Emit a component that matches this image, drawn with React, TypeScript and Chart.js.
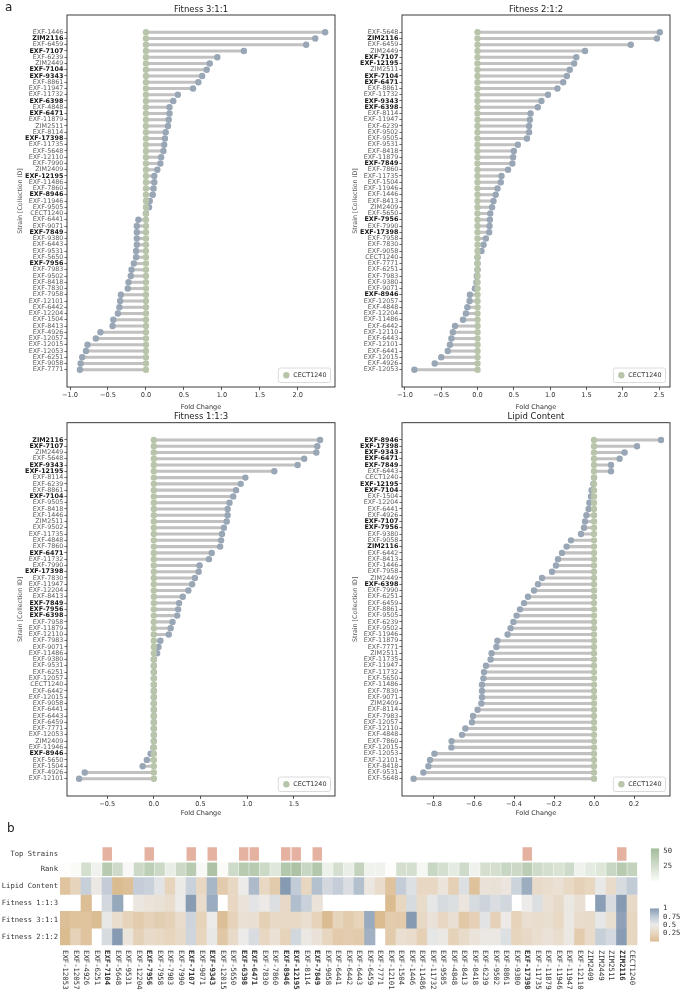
import React, { useEffect, useRef } from 'react';
import { Chart, registerables } from 'chart.js';

Chart.register(...registerables);

const SANS = "'DejaVu Sans', sans-serif";
const MONO = "'DejaVu Sans Mono', monospace";

// ---------------- data ----------------
const TOP_STRAINS = ['EXF-7104', 'EXF-7956', 'EXF-7107', 'EXF-9343', 'EXF-6398', 'EXF-6471', 'EXF-8946', 'EXF-12195', 'EXF-7849', 'EXF-17398', 'ZIM2116'];
const REFERENCE_STRAIN = 'CECT1240';

const fit311Strains = ['EXF-1446', 'ZIM2116', 'EXF-6459', 'EXF-7107', 'EXF-6239', 'ZIM2449', 'EXF-7104', 'EXF-9343', 'EXF-8861', 'EXF-11947', 'EXF-11732', 'EXF-6398', 'EXF-4848', 'EXF-6471', 'EXF-11879', 'ZIM2511', 'EXF-8114', 'EXF-17398', 'EXF-11735', 'EXF-5648', 'EXF-12110', 'EXF-7990', 'ZIM2409', 'EXF-12195', 'EXF-11486', 'EXF-7860', 'EXF-8946', 'EXF-11946', 'EXF-9505', 'CECT1240', 'EXF-6441', 'EXF-9071', 'EXF-7849', 'EXF-9380', 'EXF-6443', 'EXF-9531', 'EXF-5650', 'EXF-7956', 'EXF-7983', 'EXF-9502', 'EXF-8418', 'EXF-7830', 'EXF-7958', 'EXF-12101', 'EXF-6442', 'EXF-12204', 'EXF-1504', 'EXF-8413', 'EXF-4926', 'EXF-12057', 'EXF-12015', 'EXF-12053', 'EXF-6251', 'EXF-9058', 'EXF-7771'];
const fit311Values = [2.36, 2.23, 2.11, 1.29, 0.94, 0.84, 0.80, 0.74, 0.69, 0.62, 0.42, 0.36, 0.31, 0.31, 0.30, 0.29, 0.26, 0.25, 0.24, 0.23, 0.20, 0.19, 0.15, 0.11, 0.11, 0.10, 0.09, 0.05, 0.04, 0, -0.10, -0.12, -0.12, -0.12, -0.12, -0.13, -0.13, -0.16, -0.19, -0.20, -0.23, -0.24, -0.33, -0.34, -0.35, -0.37, -0.43, -0.44, -0.60, -0.66, -0.77, -0.79, -0.84, -0.86, -0.87];
const fit311Ticks = [-1, -0.5, 0, 0.5, 1, 1.5, 2];

const fit212Strains = ['EXF-5648', 'ZIM2116', 'EXF-6459', 'ZIM2449', 'EXF-7107', 'EXF-12195', 'ZIM2511', 'EXF-7104', 'EXF-6471', 'EXF-8861', 'EXF-11732', 'EXF-9343', 'EXF-6398', 'EXF-8114', 'EXF-11947', 'EXF-6239', 'EXF-9502', 'EXF-9505', 'EXF-9531', 'EXF-8418', 'EXF-11879', 'EXF-7849', 'EXF-7860', 'EXF-11735', 'EXF-1504', 'EXF-11946', 'EXF-1446', 'EXF-8413', 'ZIM2409', 'EXF-5650', 'EXF-7956', 'EXF-7990', 'EXF-17398', 'EXF-7958', 'EXF-7830', 'EXF-9058', 'CECT1240', 'EXF-7771', 'EXF-6251', 'EXF-7983', 'EXF-9380', 'EXF-9071', 'EXF-8946', 'EXF-12057', 'EXF-4848', 'EXF-12204', 'EXF-11486', 'EXF-6442', 'EXF-12110', 'EXF-6443', 'EXF-12101', 'EXF-6441', 'EXF-12015', 'EXF-4926', 'EXF-12053'];
const fit212Values = [2.51, 2.47, 2.11, 1.48, 1.36, 1.33, 1.27, 1.23, 1.18, 1.10, 0.97, 0.88, 0.83, 0.73, 0.72, 0.71, 0.71, 0.68, 0.555, 0.50, 0.49, 0.48, 0.42, 0.33, 0.32, 0.275, 0.25, 0.22, 0.20, 0.175, 0.17, 0.165, 0.16, 0.115, 0.083, 0.055, 0, 0, 0, -0.01, -0.015, -0.036, -0.105, -0.11, -0.14, -0.16, -0.20, -0.31, -0.34, -0.36, -0.38, -0.41, -0.50, -0.59, -0.87];
const fit212Ticks = [-1, -0.5, 0, 0.5, 1, 1.5, 2, 2.5];

const fit113Strains = ['ZIM2116', 'EXF-7107', 'ZIM2449', 'EXF-5648', 'EXF-9343', 'EXF-12195', 'EXF-8114', 'EXF-6239', 'EXF-8861', 'EXF-7104', 'EXF-9505', 'EXF-8418', 'EXF-1446', 'ZIM2511', 'EXF-9502', 'EXF-11735', 'EXF-4848', 'EXF-7860', 'EXF-6471', 'EXF-11732', 'EXF-7990', 'EXF-17398', 'EXF-7830', 'EXF-11947', 'EXF-12204', 'EXF-8413', 'EXF-7849', 'EXF-7956', 'EXF-6398', 'EXF-7958', 'EXF-11879', 'EXF-12110', 'EXF-7983', 'EXF-9071', 'EXF-11486', 'EXF-9380', 'EXF-9531', 'EXF-6251', 'EXF-12057', 'CECT1240', 'EXF-6442', 'EXF-12015', 'EXF-9058', 'EXF-6441', 'EXF-6443', 'EXF-6459', 'EXF-7771', 'EXF-12053', 'ZIM2409', 'EXF-11946', 'EXF-8946', 'EXF-5650', 'EXF-1504', 'EXF-4926', 'EXF-12101'];
const fit113Values = [1.78, 1.75, 1.74, 1.61, 1.54, 1.29, 0.98, 0.93, 0.88, 0.85, 0.81, 0.79, 0.79, 0.78, 0.75, 0.73, 0.72, 0.71, 0.62, 0.59, 0.49, 0.48, 0.44, 0.41, 0.37, 0.31, 0.27, 0.26, 0.25, 0.20, 0.18, 0.16, 0.07, 0.05, 0.035, 0, 0, 0, 0, 0, 0, 0, 0, 0, 0, 0, 0, 0, 0, -0.005, -0.035, -0.075, -0.12, -0.74, -0.80];
const fit113Ticks = [-0.5, 0, 0.5, 1, 1.5];

const lipidStrains = ['EXF-8946', 'EXF-17398', 'EXF-9343', 'EXF-6471', 'EXF-7849', 'EXF-6443', 'CECT1240', 'EXF-12195', 'EXF-7104', 'EXF-1504', 'EXF-12204', 'EXF-6441', 'EXF-4926', 'EXF-7107', 'EXF-7956', 'EXF-9380', 'EXF-9058', 'ZIM2116', 'EXF-6442', 'EXF-8413', 'EXF-1446', 'EXF-7958', 'ZIM2449', 'EXF-6398', 'EXF-7990', 'EXF-6251', 'EXF-6459', 'EXF-8861', 'EXF-9505', 'EXF-6239', 'EXF-9502', 'EXF-11946', 'EXF-11879', 'EXF-7771', 'ZIM2511', 'EXF-11735', 'EXF-11947', 'EXF-11732', 'EXF-5650', 'EXF-11486', 'EXF-7830', 'EXF-9071', 'ZIM2409', 'EXF-8114', 'EXF-7983', 'EXF-12057', 'EXF-12110', 'EXF-4848', 'EXF-7860', 'EXF-12015', 'EXF-12053', 'EXF-12101', 'EXF-8418', 'EXF-9531', 'EXF-5648'];
const lipidValues = [0.335, 0.215, 0.153, 0.128, 0.085, 0.085, 0, -0.003, -0.012, -0.015, -0.023, -0.027, -0.038, -0.045, -0.05, -0.065, -0.115, -0.137, -0.16, -0.18, -0.19, -0.21, -0.26, -0.28, -0.30, -0.33, -0.35, -0.37, -0.387, -0.403, -0.417, -0.432, -0.483, -0.488, -0.512, -0.517, -0.54, -0.55, -0.553, -0.56, -0.56, -0.56, -0.563, -0.582, -0.605, -0.61, -0.643, -0.66, -0.712, -0.713, -0.798, -0.82, -0.828, -0.853, -0.902];
const lipidTicks = [-0.8, -0.6, -0.4, -0.2, 0, 0.2];

// heatmap (columns in this order)
const heatStrains = ['EXF-12053', 'EXF-12057', 'EXF-4926', 'EXF-6251', 'EXF-7104', 'EXF-5648', 'EXF-9531', 'EXF-12204', 'EXF-7956', 'EXF-7958', 'EXF-7983', 'EXF-7990', 'EXF-7107', 'EXF-9071', 'EXF-9343', 'EXF-12015', 'EXF-5650', 'EXF-6398', 'EXF-6471', 'EXF-7830', 'EXF-7860', 'EXF-8946', 'EXF-12195', 'EXF-8114', 'EXF-7849', 'EXF-9058', 'EXF-6441', 'EXF-6442', 'EXF-6443', 'EXF-6459', 'EXF-7771', 'EXF-12101', 'EXF-1504', 'EXF-1446', 'EXF-11486', 'EXF-11732', 'EXF-9505', 'EXF-4848', 'EXF-8413', 'EXF-8418', 'EXF-6239', 'EXF-9502', 'EXF-8861', 'EXF-9380', 'EXF-17398', 'EXF-11735', 'EXF-11879', 'EXF-11946', 'EXF-11947', 'EXF-12110', 'ZIM2409', 'ZIM2449', 'ZIM2511', 'ZIM2116', 'CECT1240'];
const heatRank = [0, 2, 25, 8, 42, 28, 3, 30, 38, 30, 12, 30, 42, 3, 48, 2, 28, 42, 42, 30, 18, 45, 48, 32, 45, 10, 25, 12, 35, 8, 8, 0, 25, 25, 5, 32, 25, 15, 28, 8, 25, 25, 32, 30, 40, 28, 25, 22, 28, 8, 15, 18, 32, 42, 35];
const heatLipid = [0.08, 0.24, 0.70, 0.46, 0.72, 0.00, 0.04, 0.71, 0.69, 0.56, 0.24, 0.49, 0.69, 0.28, 0.85, 0.15, 0.28, 0.50, 0.83, 0.28, 0.15, 1.00, 0.73, 0.26, 0.80, 0.64, 0.71, 0.60, 0.80, 0.45, 0.33, 0.07, 0.72, 0.58, 0.28, 0.28, 0.42, 0.20, 0.58, 0.06, 0.40, 0.39, 0.43, 0.68, 0.90, 0.31, 0.34, 0.38, 0.29, 0.21, 0.27, 0.52, 0.32, 0.62, 0.73];
const heatFit113 = [null, null, 0.02, null, 0.64, 0.93, null, 0.45, 0.41, 0.39, 0.34, 0.50, 0.99, 0.33, 0.91, null, 0.28, 0.41, 0.55, 0.48, 0.585, 0.30, 0.81, 0.69, 0.41, null, null, null, null, null, null, 0.00, 0.26, 0.62, 0.32, 0.54, 0.62, 0.59, 0.43, 0.62, 0.67, 0.60, 0.65, null, 0.50, 0.59, 0.38, 0.31, 0.47, 0.37, null, 0.98, 0.61, 1.00, 0.31];
const heatFit311 = [0.025, 0.065, 0.08, 0.01, 0.52, 0.34, 0.23, 0.155, 0.22, 0.17, 0.21, 0.33, 0.67, 0.23, 0.50, 0.03, 0.23, 0.38, 0.365, 0.195, 0.30, 0.30, 0.30, 0.35, 0.23, 0.003, 0.24, 0.16, 0.23, 0.92, 0.00, 0.16, 0.14, 1.00, 0.30, 0.40, 0.28, 0.365, 0.13, 0.20, 0.56, 0.21, 0.48, 0.23, 0.35, 0.34, 0.36, 0.285, 0.46, 0.33, 0.32, 0.53, 0.36, 0.96, 0.27];
const heatFit212 = [0.00, 0.22, 0.08, null, 0.62, 1.00, 0.42, 0.21, 0.31, 0.29, 0.25, 0.31, 0.66, 0.25, 0.52, 0.11, 0.31, 0.50, 0.61, 0.28, 0.38, 0.23, 0.65, 0.47, 0.40, 0.27, 0.14, 0.17, 0.15, 0.88, null, 0.145, 0.35, 0.33, 0.20, 0.54, 0.46, 0.22, 0.32, 0.405, 0.47, 0.47, 0.58, 0.25, 0.30, 0.355, 0.40, 0.34, 0.47, 0.16, 0.32, 0.70, 0.63, 0.99, 0.26];
const heatRowNames = ['Top Strains', 'Rank', 'Lipid Content', 'Fitness 1:1:3', 'Fitness 3:1:1', 'Fitness 2:1:2'];
const rankMax = 55;
const rankBarTicks = [25, 50];
const heatBarTicks = [0.25, 0.5, 0.75, 1];

// ---------------- styles ----------------
const GREEN = 'rgb(184,197,170)';
const BLUE = 'rgb(153,166,181)';
const STEM = 'rgb(193,193,193)';
const PINK = 'rgb(229,178,162)';
const HEAT_STOPS: [number, number[]][] = [
  [0, [219, 188, 145]],
  [0.25, [231, 213, 190]],
  [0.5, [236, 235, 233]],
  [0.75, [190, 201, 213]],
  [1, [134, 155, 178]],
];
const RANK_STOPS: [number, number[]][] = [
  [0, [253, 253, 251]],
  [1, [162, 187, 154]],
];
// row extents of the heatmap on its 0..100 layout axis
const ROW_SPANS = [[1.3, 14.7], [16.7, 30.2], [31.7, 48.7], [48.7, 65.7], [65.7, 82.7], [82.7, 99.7]];

const topSet = new Set(TOP_STRAINS);

function mapColor(stops: [number, number[]][], t: number) {
  const x = Math.max(0, Math.min(1, t));
  for (let i = 1; i < stops.length; i++) {
    if (x <= stops[i][0]) {
      const [t0, c0] = stops[i - 1];
      const [t1, c1] = stops[i];
      const f = (x - t0) / (t1 - t0);
      return `rgb(${c0.map((c, k) => Math.round(c + (c1[k] - c) * f)).join(',')})`;
    }
  }
  const last = stops[stops.length - 1][1];
  return `rgb(${last.join(',')})`;
}

function fmt(v: number) {
  const s = Math.abs(v).toFixed(1);
  return v < -1e-9 ? '\u2212' + s : s;
}

const framePlugin = {
  id: 'frame',
  afterDraw(chart: any) {
    const { ctx, chartArea: a } = chart;
    ctx.save();
    ctx.strokeStyle = '#262626';
    ctx.lineWidth = 0.9;
    ctx.strokeRect(a.left, a.top, a.right - a.left, a.bottom - a.top);
    ctx.restore();
  },
};

const panelTitlePlugin = {
  id: 'panelTitle',
  afterDraw(chart: any, _args: any, opts: any) {
    if (!opts || !opts.text) return;
    const { ctx, chartArea: a } = chart;
    ctx.save();
    ctx.font = `8.5px ${SANS}`;
    ctx.fillStyle = '#222';
    ctx.textAlign = 'center';
    ctx.textBaseline = 'middle';
    ctx.fillText(opts.text, (a.left + a.right) / 2, a.top - 5.5);
    ctx.restore();
  },
};

const miniLegendPlugin = {
  id: 'miniLegend',
  afterDraw(chart: any) {
    const { ctx, chartArea: a } = chart;
    const text = chart.data.datasets[0].label;
    ctx.save();
    ctx.font = `6.4px ${SANS}`;
    const tw = ctx.measureText(text).width;
    const w = tw + 19;
    const h = 14.5;
    const x = a.right - 4.5 - w;
    const y = a.bottom - 4.5 - h;
    ctx.beginPath();
    const r = 2;
    ctx.moveTo(x + r, y);
    ctx.lineTo(x + w - r, y);
    ctx.arcTo(x + w, y, x + w, y + r, r);
    ctx.lineTo(x + w, y + h - r);
    ctx.arcTo(x + w, y + h, x + w - r, y + h, r);
    ctx.lineTo(x + r, y + h);
    ctx.arcTo(x, y + h, x, y + h - r, r);
    ctx.lineTo(x, y + r);
    ctx.arcTo(x, y, x + r, y, r);
    ctx.closePath();
    ctx.fillStyle = 'rgba(255,255,255,0.85)';
    ctx.fill();
    ctx.strokeStyle = '#d2d2d2';
    ctx.lineWidth = 0.8;
    ctx.stroke();
    ctx.beginPath();
    ctx.arc(x + 8, y + h / 2, 3.2, 0, Math.PI * 2);
    ctx.fillStyle = GREEN;
    ctx.fill();
    ctx.fillStyle = '#333';
    ctx.textAlign = 'left';
    ctx.textBaseline = 'middle';
    ctx.fillText(text, x + 15, y + h / 2 + 0.3);
    ctx.restore();
  },
};

type Geo = {
  left: number; top: number; width: number; height: number;
  padTop: number; padRight: number; yWidth: number; xHeight: number;
  yTitlePad: number; xTitlePad: number;
};

const GEO: Record<string, Geo> = {
  tl: { left: 0, top: 0, width: 340, height: 416, padTop: 15, padRight: 5, yWidth: 67, xHeight: 29, yTitlePad: 16.2, xTitlePad: 5.1 },
  tr: { left: 340, top: 0, width: 340, height: 416, padTop: 15, padRight: 10, yWidth: 62, xHeight: 29, yTitlePad: 11.2, xTitlePad: 5.1 },
  bl: { left: 0, top: 400, width: 340, height: 420, padTop: 22.7, padRight: 5, yWidth: 67, xHeight: 24, yTitlePad: 16.2, xTitlePad: 3.1 },
  br: { left: 340, top: 400, width: 340, height: 420, padTop: 22.7, padRight: 10, yWidth: 62, xHeight: 24, yTitlePad: 11.2, xTitlePad: 3.1 },
};

function makeLollipop(canvas: HTMLCanvasElement, strains: string[], values: number[], title: string, ticks: number[], xMin: number, xMax: number, geo: Geo) {
  const n = strains.length;
  return new Chart(canvas, {
    type: 'bar',
    data: {
      datasets: [
        {
          type: 'line', label: REFERENCE_STRAIN, indexAxis: 'y', order: 0,
          data: strains.map((_, i) => ({ x: 0, y: i })),
          showLine: false, pointRadius: 3.2, pointHoverRadius: 3.2, pointBorderWidth: 0,
          pointBackgroundColor: GREEN, borderColor: GREEN, backgroundColor: GREEN,
        },
        {
          type: 'line', label: 'Fold Change', indexAxis: 'y', order: 1,
          data: values.map((v, i) => ({ x: v, y: i })),
          showLine: false, pointRadius: 3.2, pointHoverRadius: 3.2, pointBorderWidth: 0,
          pointBackgroundColor: BLUE, borderColor: BLUE, backgroundColor: BLUE,
        },
        {
          type: 'bar', label: 'stem', indexAxis: 'y', order: 2,
          data: values.map((v, i) => ({ x: [0, v], y: i })),
          backgroundColor: STEM, borderWidth: 0, barThickness: 2.4,
        },
      ],
    } as any,
    options: {
      responsive: false,
      animation: false,
      indexAxis: 'y',
      layout: { padding: { left: 0, right: geo.padRight, top: geo.padTop, bottom: 0 } },
      plugins: {
        legend: { display: false },
        tooltip: { enabled: false },
        title: { display: false },
        panelTitle: { text: title },
      },
      scales: {
        x: {
          type: 'linear', position: 'bottom', min: xMin, max: xMax, offset: false,
          afterBuildTicks: (a: any) => { a.ticks = ticks.map((v) => ({ value: v })); },
          afterFit: (a: any) => { a.height = geo.xHeight; },
          ticks: { callback: (v: any) => fmt(Number(v)), font: { family: SANS, size: 6.6 }, color: '#333', padding: 1.5, maxRotation: 0, autoSkip: false },
          grid: { display: true, drawOnChartArea: false, drawTicks: true, tickLength: 3, color: '#333', lineWidth: 0.8, offset: false },
          border: { display: false },
          title: { display: true, text: 'Fold Change', font: { family: SANS, size: 6.5 }, color: '#333', padding: { top: 0, bottom: geo.xTitlePad } },
        },
        y: {
          type: 'linear', position: 'left', reverse: true, min: -2.75, max: n - 1 + 2.75, offset: false,
          afterBuildTicks: (a: any) => { a.ticks = strains.map((_, i) => ({ value: i })); },
          afterFit: (a: any) => { a.width = geo.yWidth; },
          ticks: {
            autoSkip: false,
            padding: 1,
            callback: (v: any) => strains[Number(v)] ?? '',
            font: (c: any) => ({ family: SANS, size: 6.4, weight: topSet.has(strains[c.tick?.value]) ? 'bold' : 'normal' }),
            color: (c: any) => (topSet.has(strains[c.tick?.value]) ? '#1a1a1a' : '#606060'),
          },
          grid: { display: true, drawOnChartArea: false, drawTicks: true, tickLength: 2.6, color: '#333', lineWidth: 0.7, offset: false },
          border: { display: false },
          title: { display: true, text: 'Strain [Collection ID]', font: { family: SANS, size: 6.3 }, color: '#555', padding: { top: geo.yTitlePad, bottom: 0 } },
        },
      },
    } as any,
    plugins: [framePlugin, miniLegendPlugin, panelTitlePlugin],
  });
}

const colLabelPlugin = {
  id: 'colLabels',
  afterDraw(chart: any) {
    const { ctx, chartArea: a, scales } = chart;
    const x = scales.x;
    ctx.save();
    ctx.fillStyle = '#333';
    ctx.textAlign = 'left';
    ctx.textBaseline = 'middle';
    heatStrains.forEach((s, i) => {
      const px = x.getPixelForValue(i);
      ctx.save();
      ctx.translate(px, a.bottom + 4.5);
      ctx.rotate(Math.PI / 2);
      ctx.font = `${topSet.has(s) ? 'bold ' : ''}7.3px ${MONO}`;
      ctx.fillText(s, 0, 0);
      ctx.restore();
    });
    ctx.restore();
  },
};

function makeHeatmap(canvas: HTMLCanvasElement) {
  const rowValues: (number | null)[][] = [heatLipid, heatFit113, heatFit311, heatFit212];
  const datasets: any[] = [];
  datasets.push({
    label: heatRowNames[0],
    data: heatStrains.map((s) => (topSet.has(s) ? ROW_SPANS[0] : null)),
    backgroundColor: PINK, barPercentage: 0.9, categoryPercentage: 1, grouped: false, borderWidth: 0,
  });
  datasets.push({
    label: heatRowNames[1],
    data: heatRank.map(() => ROW_SPANS[1]),
    backgroundColor: heatRank.map((v) => mapColor(RANK_STOPS, v / rankMax)),
    barPercentage: 0.96, categoryPercentage: 1, grouped: false, borderWidth: 0,
  });
  rowValues.forEach((vals, r) => {
    datasets.push({
      label: heatRowNames[r + 2],
      data: vals.map((v) => (v == null ? null : ROW_SPANS[r + 2])),
      backgroundColor: vals.map((v) => (v == null ? 'rgba(0,0,0,0)' : mapColor(HEAT_STOPS, v))),
      barPercentage: 1, categoryPercentage: 1, grouped: false, borderWidth: 0,
    });
  });
  const centers = ROW_SPANS.map(([a, b]) => (a + b) / 2);
  return new Chart(canvas, {
    type: 'bar',
    data: { labels: heatStrains, datasets },
    options: {
      responsive: false,
      animation: false,
      layout: { padding: { left: 0, right: 47.5, top: 16, bottom: 0 } },
      plugins: { legend: { display: false }, tooltip: { enabled: false } },
      scales: {
        x: {
          type: 'category',
          afterFit: (a: any) => { a.height = 55.5; },
          ticks: { display: false },
          grid: { display: false, drawTicks: false },
          border: { display: false },
        },
        y: {
          type: 'linear', reverse: true, min: 0, max: 100,
          afterBuildTicks: (a: any) => { a.ticks = centers.map((v) => ({ value: v })); },
          afterFit: (a: any) => { a.width = 60; },
          ticks: { autoSkip: false, padding: 2, callback: (_v: any, i: number) => heatRowNames[i], font: { family: MONO, size: 7.2 }, color: '#333' },
          grid: { display: false, drawTicks: false },
          border: { display: false },
        },
      },
    } as any,
    plugins: [colLabelPlugin],
  });
}

function makeColorbar(canvas: HTMLCanvasElement, stops: [number, number[]][], max: number, ticks: number[], pad: any, yWidth: number) {
  return new Chart(canvas, {
    type: 'bar',
    data: {
      labels: [''],
      datasets: [{
        data: [[0, max]],
        backgroundColor: (c: any) => {
          const ch = c.chart;
          const a = ch.chartArea;
          if (!a) return 'rgba(0,0,0,0)';
          const g = ch.ctx.createLinearGradient(0, a.bottom, 0, a.top);
          stops.forEach(([t, rgb]) => g.addColorStop(t, `rgb(${rgb.join(',')})`));
          return g;
        },
        barPercentage: 1, categoryPercentage: 1, borderWidth: 0, inflateAmount: 0,
      }],
    } as any,
    options: {
      responsive: false,
      animation: false,
      layout: { padding: pad },
      plugins: { legend: { display: false }, tooltip: { enabled: false } },
      scales: {
        x: { display: false },
        y: {
          position: 'right', min: 0, max,
          afterBuildTicks: (a: any) => { a.ticks = ticks.map((v) => ({ value: v })); },
          afterFit: (a: any) => { a.width = yWidth; },
          ticks: { autoSkip: false, padding: 4, callback: (v: any) => String(v), font: { family: MONO, size: 7.2 }, color: '#333' },
          grid: { display: false, drawTicks: false },
          border: { display: false },
        },
      },
    } as any,
  });
}

export default function App() {
  const tl = useRef<HTMLCanvasElement>(null);
  const tr = useRef<HTMLCanvasElement>(null);
  const bl = useRef<HTMLCanvasElement>(null);
  const br = useRef<HTMLCanvasElement>(null);
  const hm = useRef<HTMLCanvasElement>(null);
  const cb1 = useRef<HTMLCanvasElement>(null);
  const cb2 = useRef<HTMLCanvasElement>(null);

  useEffect(() => {
    const charts: Chart[] = [];
    charts.push(makeLollipop(tl.current!, fit311Strains, fit311Values, 'Fitness 3:1:1', fit311Ticks, -1.04, 2.49, GEO.tl));
    charts.push(makeLollipop(tr.current!, fit212Strains, fit212Values, 'Fitness 2:1:2', fit212Ticks, -1.04, 2.65, GEO.tr));
    charts.push(makeLollipop(bl.current!, fit113Strains, fit113Values, 'Fitness 1:1:3', fit113Ticks, -0.93, 1.94, GEO.bl));
    charts.push(makeLollipop(br.current!, lipidStrains, lipidValues, 'Lipid Content', lipidTicks, -0.96, 0.38, GEO.br));
    charts.push(makeHeatmap(hm.current!));
    charts.push(makeColorbar(cb1.current!, RANK_STOPS, rankMax, rankBarTicks, { left: 10.7, top: 8, bottom: 4.6, right: 0 }, 25.7));
    charts.push(makeColorbar(cb2.current!, HEAT_STOPS, 1, heatBarTicks, { left: 10, top: 6.5, bottom: 3.5, right: 0 }, 26));
    return () => charts.forEach((c) => c.destroy());
  }, []);

  const pos = (g: Geo): React.CSSProperties => ({ position: 'absolute', left: g.left, top: g.top });

  return (
    <div style={{ position: 'absolute', left: 0, top: 0, width: 685, height: 1001, background: '#fff', fontFamily: SANS, overflow: 'hidden' }}>
      <canvas ref={tl} width={GEO.tl.width} height={GEO.tl.height} style={pos(GEO.tl)} />
      <canvas ref={tr} width={GEO.tr.width} height={GEO.tr.height} style={pos(GEO.tr)} />
      <canvas ref={bl} width={GEO.bl.width} height={GEO.bl.height} style={pos(GEO.bl)} />
      <canvas ref={br} width={GEO.br.width} height={GEO.br.height} style={pos(GEO.br)} />
      <canvas ref={hm} width={685} height={171} style={{ position: 'absolute', left: 0, top: 830 }} />
      <canvas ref={cb1} width={45} height={50} style={{ position: 'absolute', left: 640, top: 840 }} />
      <canvas ref={cb2} width={45} height={50} style={{ position: 'absolute', left: 640, top: 900 }} />
      <div style={{ position: 'absolute', left: 5, top: 0, fontSize: 12, color: '#222', lineHeight: '14px' }}>a</div>
      <div style={{ position: 'absolute', left: 7, top: 821, fontSize: 12, color: '#222', lineHeight: '14px' }}>b</div>
    </div>
  );
}
